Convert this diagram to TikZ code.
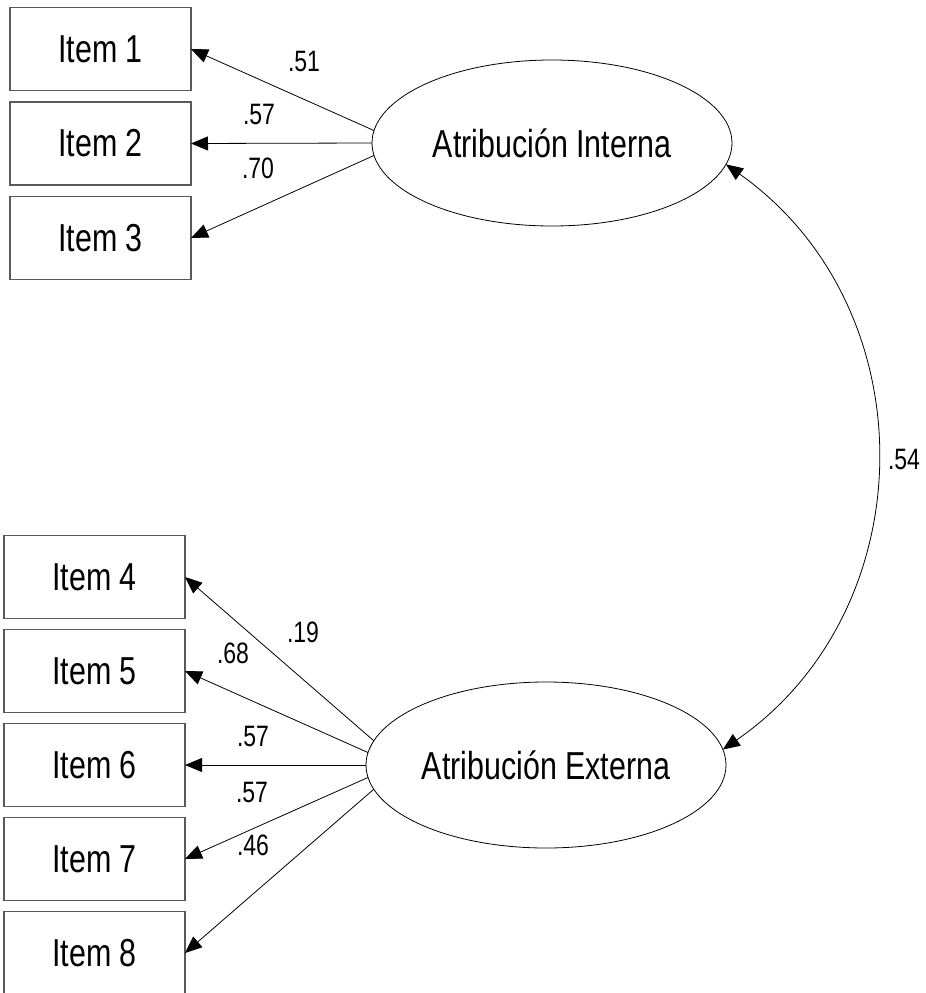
\documentclass[tikz,border=0pt]{standalone}
\usepackage{fontspec}
\setmainfont{Liberation Sans}[FakeStretch=0.78]
\usetikzlibrary{positioning,shapes.geometric,arrows.meta}

\tikzset{Item/.style={draw,black!65,line width=1.3pt,minimum width=181pt,minimum height=83pt,inner sep=0pt,outer sep=0pt,rectangle,text=black,font=\fontsize{39}{41}\selectfont}}
\tikzset{Factor/.style={draw,black,line width=0.8pt,minimum width=360pt,minimum height=166pt,inner sep=0pt,outer sep=0pt,ellipse,text height=28pt,text depth=0pt,font=\fontsize{39}{41}\selectfont}}
\tikzset{Coef/.style={inner sep=0pt,font=\fontsize{29.5}{31}\selectfont}}
\tikzset{Load/.style={draw,black,line width=0.8pt,>={Triangle[length=17pt,width=14pt]}}}

\begin{document}
\begin{tikzpicture}[x=1pt,y=1pt]
\useasboundingbox (0,0) rectangle (926,-993);

\node[Factor] (AI) at (552,-143) {Atribución Interna};
\node[Factor] (AE) at (546,-765) {Atribución Externa};

\node[Item] (I2) at (100.5,-143.5) {Item 2};
\node[Item,above=11.5pt of I2] (I1) {Item 1};
\node[Item,below=11.5pt of I2] (I3) {Item 3};

\node[Item] (I6) at (94.5,-765) {Item 6};
\node[Item,above=11pt of I6] (I5) {Item 5};
\node[Item,above=11pt of I5] (I4) {Item 4};
\node[Item,below=11pt of I6] (I7) {Item 7};
\node[Item,below=11pt of I7] (I8) {Item 8};

\draw[Load,->] (AI.176) -- (I1.east);
\draw[Load,->] (AI.180) -- (I2.east);
\draw[Load,->] (AI.184) -- (I3.east);

\draw[Load,->] (AE.172.5) -- (I4.east);
\draw[Load,->] (AE.176) -- (I5.east);
\draw[Load,->] (AE.180) -- (I6.east);
\draw[Load,->] (AE.184) -- (I7.east);
\draw[Load,->] (AE.188) -- (I8.east);

\draw[Load,<->] (AI.353) to[bend left=55,looseness=1.08] (AE.5);

\node[Coef] (c1) at (304,-61) {.51};
\node[Coef] (c2) at (259,-114) {.57};
\node[Coef] (c3) at (258,-168) {.70};
\node[Coef] (c4) at (303,-632) {.19};
\node[Coef] (c5) at (233,-653) {.68};
\node[Coef] (c6) at (253,-736) {.57};
\node[Coef] (c7) at (252,-792) {.57};
\node[Coef] (c8) at (253,-845) {.46};
\node[Coef] (c9) at (904,-459) {.54};

\end{tikzpicture}
\end{document}
